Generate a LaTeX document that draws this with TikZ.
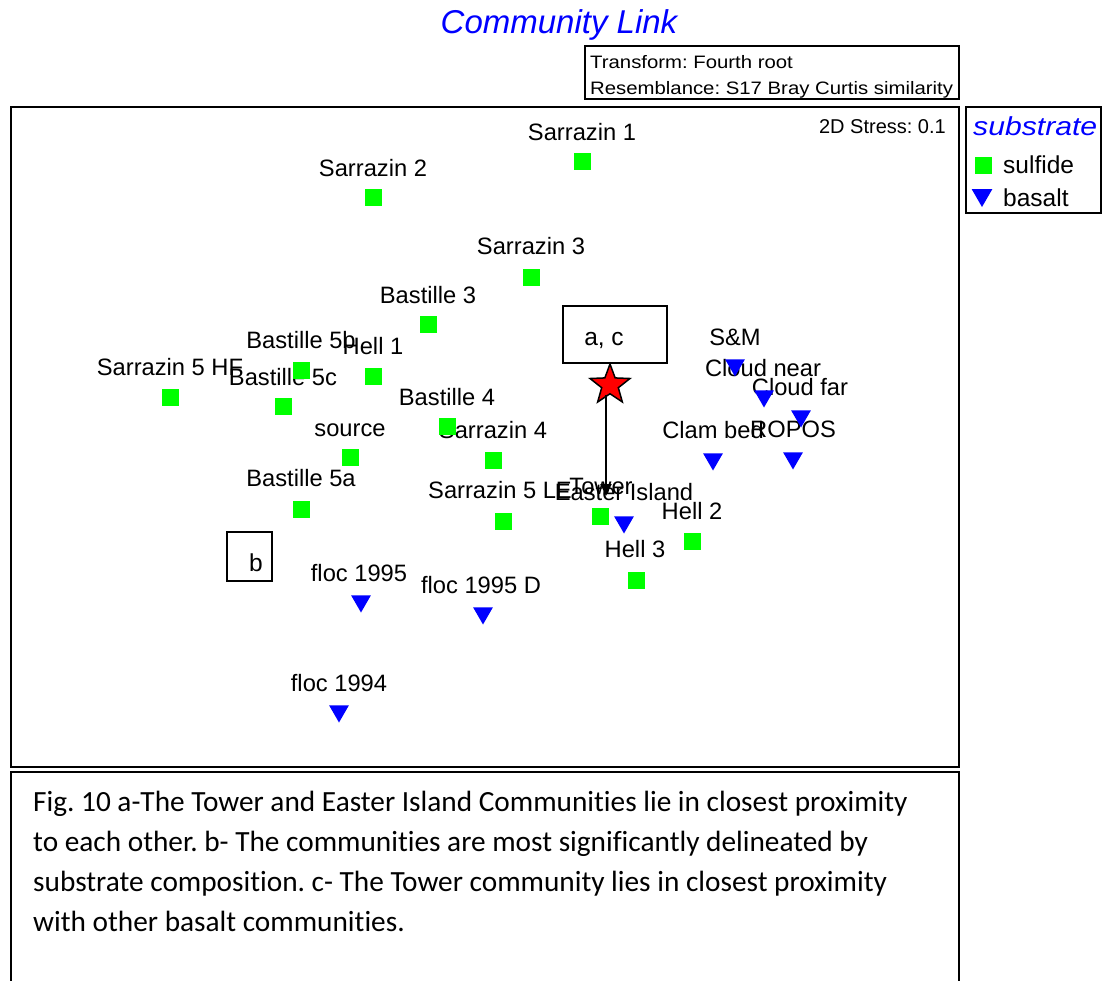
\documentclass[tikz,border=0pt]{standalone}
\usepackage{fontspec}
\setmainfont{Liberation Sans}
\newfontfamily\capfont[Ligatures=NoCommon]{Carlito}
\newfontfamily\widefont[FakeStretch=1.13]{Liberation Sans}
\newfontfamily\legfont[FakeStretch=1.16]{Liberation Sans}
\usetikzlibrary{shapes.geometric,arrows.meta}
\definecolor{mgreen}{RGB}{0,255,0}
\definecolor{mblue}{RGB}{0,0,255}
\definecolor{tblue}{RGB}{0,0,255}
\definecolor{mred}{RGB}{255,0,0}
\begin{document}
\frenchspacing
\begin{tikzpicture}[x=1pt,y=-1pt,
  sq/.style={rectangle, fill=mgreen, minimum size=17pt, inner sep=0pt, outer sep=0pt},
  tri/.style={regular polygon, regular polygon sides=3, shape border rotate=180, fill=mblue, inner sep=0pt, outer sep=0pt, minimum size=23pt},
  lab/.style={anchor=base, inner sep=0pt, font=\fontsize{23.7}{27}\selectfont},
  frame/.style={draw, line width=2pt},
  thinbox/.style={draw, line width=1.5pt, inner sep=0pt},
  capline/.style={anchor=base west, inner sep=0pt, font=\capfont\fontsize{29.3}{35}\selectfont},
  leg/.style={anchor=base west, inner sep=0pt, font=\fontsize{24.5}{28}\selectfont},
  starshape/.style={star, star points=5, star point ratio=2.4, minimum size=42pt, inner sep=0pt, fill=mred, draw=black, line width=1.5pt},
  arr/.style={line width=2pt, -{Triangle[length=12pt,width=11pt]}}
]
\useasboundingbox (0,0) rectangle (1103,980);
\fill[white] (0,0) rectangle (1103,980);

% title
\node[anchor=base, inner sep=0pt, text=tblue, font=\fontsize{33}{38}\selectfont\itshape] (title) at (559,33) {Community Link};

% stats box
\node[frame, minimum width=374pt, minimum height=53pt, inner sep=0pt] (statbox) at (772,72.5) {};
\node[anchor=base west, inner sep=0pt, font=\widefont\fontsize{18}{22}\selectfont] (trans) at (590,68) {Transform: Fourth root};
\node[anchor=base west, inner sep=0pt, font=\widefont\fontsize{18}{22}\selectfont] (resem) at (590,94) {Resemblance: S17 Bray Curtis similarity};

% main plot frame
\node[frame, minimum width=948pt, minimum height=660pt, inner sep=0pt] (plot) at (485,437) {};
\node[anchor=base east, inner sep=0pt, font=\fontsize{20}{24}\selectfont] (stress) at (946,133) {2D Stress: 0.1};

% legend
\node[frame, minimum width=135pt, minimum height=106pt, inner sep=0pt] (legbox) at (1033.5,160) {};
\node[anchor=base west, inner sep=0pt, text=tblue, font=\legfont\fontsize{26}{30}\selectfont\itshape] (legtitle) at (973,135) {substrate};
\node[sq] (legsq) at (983,165) {};
\node[leg] (legsulf) at (1003,173) {sulfide};
\node[tri, minimum size=24pt] (legtri) at (982,195) {};
\node[leg] (legbas) at (1003,206) {basalt};

% annotation boxes
\node[thinbox, minimum width=104pt, minimum height=57pt] (acbox) at (615,334.5) {};
\node[anchor=base, inner sep=0pt, font=\fontsize{24.5}{28}\selectfont] (actext) at (604,345) {a, c};
\node[thinbox, minimum width=45pt, minimum height=49pt] (bbox) at (249.5,556.5) {};
\node[anchor=base, inner sep=0pt, font=\fontsize{24.5}{28}\selectfont] (btext) at (256,571) {b};

% labels (drawn below markers)
\foreach \n/\lx/\ly/\t in {s1/582/140/Sarrazin 1, s2/373/176/Sarrazin 2, s3/531/254/Sarrazin 3,
  b3/428/303/Bastille 3, b5b/301/348/Bastille 5b, h1/373/354/Hell 1, s5hf/170/375/Sarrazin 5 HF,
  b5c/283/385/Bastille 5c, b4/447/405/Bastille 4, src/350/436/source, s4/493/438/Sarrazin 4,
  b5a/301/486/Bastille 5a, s5le/500/498/Sarrazin 5 LE, tow/601/494/Tower, h2/692/519/Hell 2,
  h3/635/557/Hell 3, sm/735/345/S\&M, cn/763/376/Cloud near, cf/800/395/Cloud far,
  cb/713/438/Clam bed, rop/793/437/ROPOS, ei/624/500/Easter Island, f95/359/581/floc 1995,
  f95d/481/593/floc 1995 D, f94/339/691/floc 1994}
  \node[lab] (l\n) at (\lx,\ly) {\t};

% sulfide markers
\foreach \n/\x/\y in {s1/582/161, s2/373/197, s3/531/277, b3/428/324, b5b/301/370, h1/373/376,
  s5hf/170/397, b5c/283/406, b4/447/426, src/350/457, s4/493/460, b5a/301/509, s5le/503/521,
  tow/600/516, h2/692/541, h3/636/580}
  \node[sq] (\n) at (\x,\y) {};

% basalt markers (positioned by centroid)
\foreach \n/\x/\y in {sm/735/365, cn/764/396, cf/801/416, cb/713/459, rop/793/458, ei/624/522,
  f95/361/601, f95d/483/613, f94/339/711}
  \node[tri] (\n) at (\x,\y) {};

% star and arrow
\node[starshape] (star) at (610,385) {};
\coordinate (arrE) at (606,496);
\draw[arr] ([xshift=-4pt]star.south) -- (arrE);

% caption
\draw[line width=1.5pt] (11,995) -- (11,772) -- (959,772) -- (959,995);
\node[capline] (cap1) at (33,811) {Fig. 10 a-The Tower and Easter Island Communities lie in closest proximity};
\node[capline] (cap2) at (33,851) {to each other. b- The communities are most significantly delineated by};
\node[capline] (cap3) at (33,891) {substrate composition. c- The Tower community lies in closest proximity};
\node[capline] (cap4) at (33,931) {with other basalt communities.};
\end{tikzpicture}
\end{document}
